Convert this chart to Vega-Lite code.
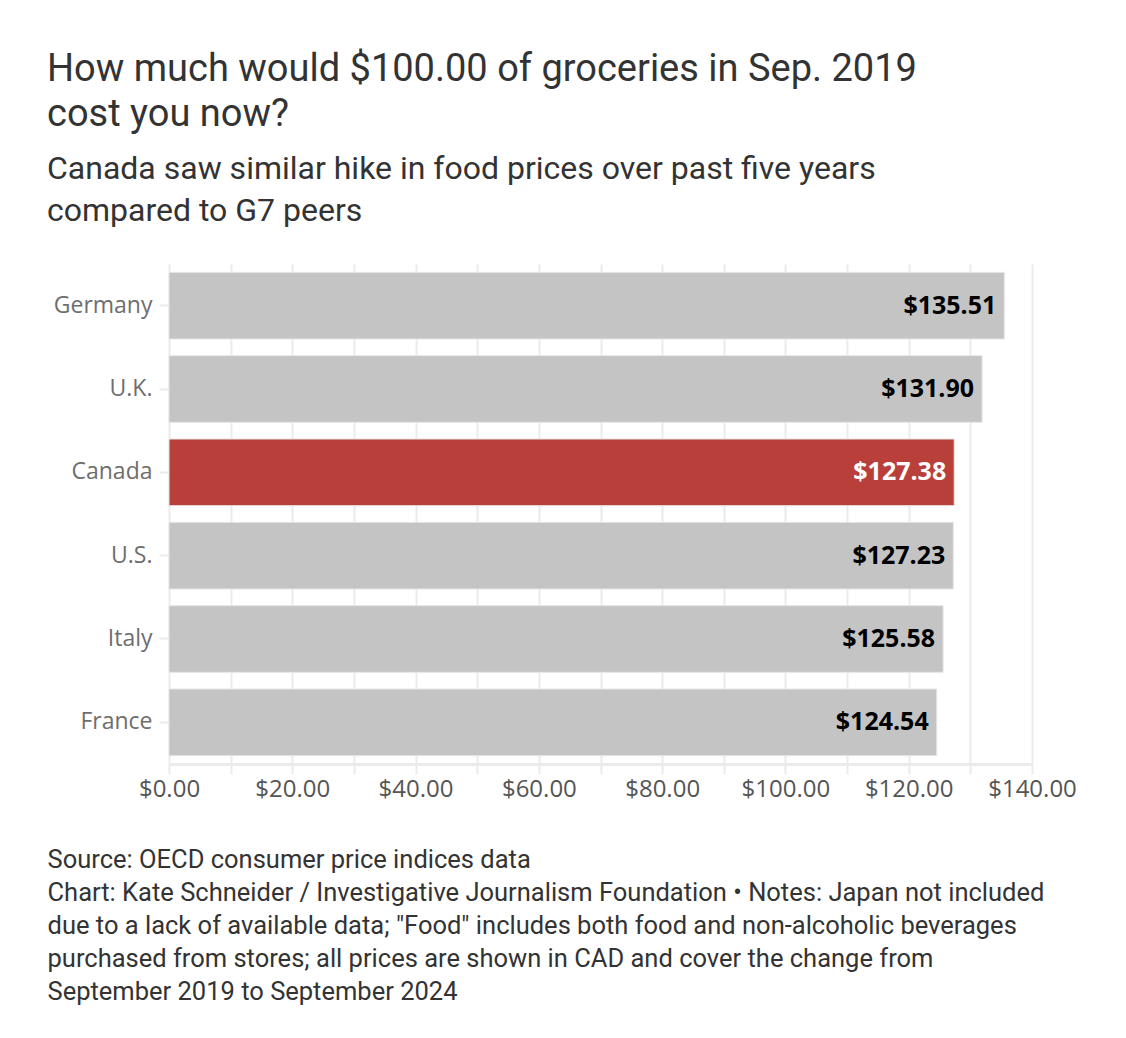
{
  "$schema": "https://vega.github.io/schema/vega-lite/v6.json",
  "width": 863,
  "height": 500,
  "autosize": {"type": "none"},
  "padding": {"left": 169, "top": 264, "right": 94, "bottom": 274},
  "background": "white",
  "title": {
    "text": ["How much would $100.00 of groceries in Sep. 2019", "cost you now?"],
    "subtitle": ["Canada saw similar hike in food prices over past five years", "compared to G7 peers"],
    "anchor": "start",
    "frame": "group",
    "dx": -122,
    "offset": 37,
    "font": "Roboto, sans-serif",
    "fontSize": 38,
    "fontWeight": "normal",
    "lineHeight": 45,
    "color": "#333333",
    "subtitleFont": "Roboto, sans-serif",
    "subtitleFontSize": 32,
    "subtitleLineHeight": 42,
    "subtitleColor": "#333333",
    "subtitlePadding": 20
  },
  "data": {
    "values": [
      {"country": "Germany", "value": 135.51},
      {"country": "U.K.", "value": 131.90},
      {"country": "Canada", "value": 127.38},
      {"country": "U.S.", "value": 127.23},
      {"country": "Italy", "value": 125.58},
      {"country": "France", "value": 124.54}
    ]
  },
  "config": {
    "view": {"stroke": null},
    "font": "Open Sans, sans-serif"
  },
  "encoding": {
    "y": {
      "field": "country",
      "type": "nominal",
      "sort": null,
      "scale": {"paddingInner": 0.2, "paddingOuter": 0.1},
      "axis": {
        "title": null,
        "domain": false,
        "grid": false,
        "ticks": true,
        "tickSize": 10,
        "tickColor": "#ebebeb",
        "tickWidth": 2,
        "labelPadding": 7,
        "labelFont": "Open Sans, sans-serif",
        "labelFontSize": 23,
        "labelColor": "#6e6e6e"
      }
    },
    "x": {
      "field": "value",
      "type": "quantitative",
      "scale": {"domain": [0, 140], "nice": false},
      "axis": {
        "values": [0, 10, 20, 30, 40, 50, 60, 70, 80, 90, 100, 110, 120, 130, 140],
        "labelExpr": "datum.value % 20 == 0 ? format(datum.value, '$,.2f') : ''",
        "grid": true,
        "gridColor": "#ebebeb",
        "gridWidth": 2,
        "domain": true,
        "domainColor": "#ebebeb",
        "domainWidth": 3,
        "ticks": true,
        "tickColor": "#ebebeb",
        "tickWidth": 2,
        "tickSize": 10,
        "labelPadding": 3,
        "labelFont": "Open Sans, sans-serif",
        "labelFontSize": 24,
        "labelColor": "#555555",
        "labelFlush": false,
        "labelOverlap": false,
        "title": [
          "Source: OECD consumer price indices data",
          "Chart: Kate Schneider / Investigative Journalism Foundation • Notes: Japan not included",
          "due to a lack of available data; \"Food\" includes both food and non-alcoholic beverages",
          "purchased from stores; all prices are shown in CAD and cover the change from",
          "September 2019 to September 2024"
        ],
        "titleAnchor": "start",
        "titleAlign": "left",
        "titleBaseline": "top",
        "titleX": -122,
        "titleY": 83,
        "titleFont": "Roboto, sans-serif",
        "titleFontSize": 25.5,
        "titleFontWeight": "normal",
        "titleLineHeight": 33,
        "titleColor": "#333333"
      }
    }
  },
  "layer": [
    {
      "mark": {"type": "bar", "stroke": "#e6e6e6", "strokeWidth": 1},
      "encoding": {
        "color": {
          "condition": {"test": "datum.country === 'Canada'", "value": "#b9403a"},
          "value": "#c4c4c4"
        }
      }
    },
    {
      "mark": {"type": "text", "align": "right", "baseline": "middle", "dx": -8, "fontSize": 25, "fontWeight": "bold", "font": "Open Sans, sans-serif"},
      "encoding": {
        "text": {"field": "value", "type": "quantitative", "format": "$,.2f"},
        "color": {
          "condition": {"test": "datum.country === 'Canada'", "value": "#ffffff"},
          "value": "#000000"
        }
      }
    }
  ]
}
